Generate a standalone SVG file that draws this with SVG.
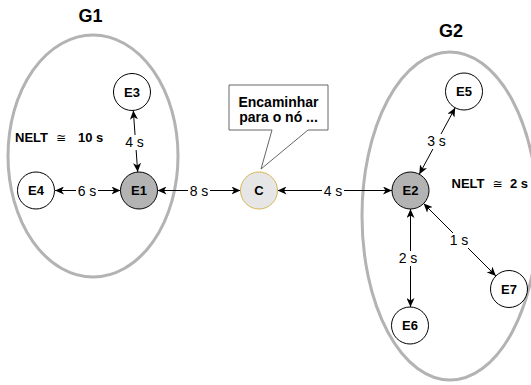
<svg xmlns="http://www.w3.org/2000/svg" width="531" height="385" viewBox="0 0 531 385">
<style>
.grp{fill:none;stroke:#b3b3b3;stroke-width:3}
.node{fill:#ffffff;stroke:#000000;stroke-width:1}
.dark{fill:#b3b3b3}
.c{fill:#e6e6e6;stroke:#d6b656}
.lbl{font-family:"Liberation Sans",Arial,sans-serif;font-weight:bold;font-size:13px;text-anchor:middle;fill:#000}
.title{font-family:"Liberation Sans",Arial,sans-serif;font-weight:bold;font-size:18px;text-anchor:middle;fill:#000}
.el{font-family:"Liberation Sans",Arial,sans-serif;font-size:14px;text-anchor:middle;fill:#000}
.nelt{font-family:"Liberation Sans",Arial,sans-serif;font-weight:bold;font-size:13px;fill:#000}
.edge{stroke:#000;stroke-width:1;fill:none;marker-start:url(#arr);marker-end:url(#arr)}
.bg{fill:#ffffff}
</style>
<defs>
<marker id="arr" markerUnits="userSpaceOnUse" markerWidth="10" markerHeight="8" refX="9" refY="4" orient="auto-start-reverse" viewBox="0 0 10 8">
<path d="M0,0 L9,4 L0,8 L2.5,4 Z" fill="#000"/>
</marker>
</defs>
<g id="groups">
<ellipse id="G1-area" class="grp" cx="93" cy="156" rx="85" ry="121"/>
<ellipse id="G2-area" class="grp" cx="450" cy="216" rx="88" ry="164"/>
<text class="title" x="90.5" y="22">G1</text>
<text class="title" x="451" y="37">G2</text>
<text class="nelt" y="141.5"><tspan x="15">NELT</tspan><tspan x="56" font-family="DejaVu Sans" font-weight="normal" font-size="12">≅</tspan><tspan x="78">10 s</tspan></text>
<text class="nelt" y="188.3"><tspan x="451.5">NELT</tspan><tspan x="492.5" font-family="DejaVu Sans" font-weight="normal" font-size="12">≅</tspan><tspan x="510">2 s</tspan></text>
</g>
<g id="connectors">
<line class="edge" x1="133.3" y1="110.5" x2="137.7" y2="172"/>
<line class="edge" x1="55" y1="190.5" x2="120.5" y2="190.5"/>
<line class="edge" x1="157.5" y1="190.5" x2="240.5" y2="190.5"/>
<line class="edge" x1="277.5" y1="190.5" x2="392" y2="190.5"/>
<line class="edge" x1="419.3" y1="174.2" x2="455.2" y2="107.8"/>
<line class="edge" x1="410.5" y1="209" x2="410.5" y2="307"/>
<line class="edge" x1="423.6" y1="203.6" x2="495.9" y2="275.9"/>
<rect class="bg" x="124" y="135" width="20" height="15"/>
<text class="el" x="134.5" y="147">4 s</text>
<rect class="bg" x="76" y="183" width="22" height="15"/>
<text class="el" x="87" y="195.5">6 s</text>
<rect class="bg" x="188" y="183" width="22" height="15"/>
<text class="el" x="199" y="195.5">8 s</text>
<rect class="bg" x="322" y="183" width="22" height="15"/>
<text class="el" x="333" y="195.5">4 s</text>
<rect class="bg" x="426" y="134" width="21" height="15"/>
<text class="el" x="436.5" y="146">3 s</text>
<rect class="bg" x="398" y="251" width="21" height="15"/>
<text class="el" x="408" y="263">2 s</text>
<rect class="bg" x="449" y="233" width="21" height="15"/>
<text class="el" x="459" y="245">1 s</text>
</g>
<g id="callout">
<path d="M229,85 H328 V130 H308 L261,169 L272,130 H229 Z" fill="#ffffff" stroke="#666666" stroke-width="1"/>
<text class="lbl" font-size="14" x="278.5" y="106.7" style="font-size:14px">Encaminhar</text>
<text class="lbl" x="278.5" y="122" style="font-size:14px">para o nó ...</text>
</g>
<g id="E3"><circle class="node" cx="132" cy="92" r="18.5"/><text class="lbl" x="132" y="96.7">E3</text></g>
<g id="E4"><circle class="node" cx="36" cy="190.5" r="18.5"/><text class="lbl" x="36" y="195.2">E4</text></g>
<g id="E1"><circle class="node dark" cx="139" cy="190.5" r="18.5"/><text class="lbl" x="139" y="195.2">E1</text></g>
<g id="C"><circle class="node c" cx="259" cy="190.5" r="18.5"/><text class="lbl" x="259" y="195.2">C</text></g>
<g id="E2"><circle class="node dark" cx="410.5" cy="190.5" r="18.5"/><text class="lbl" x="410.5" y="195.2">E2</text></g>
<g id="E5"><circle class="node" cx="464" cy="91.5" r="18.5"/><text class="lbl" x="464" y="96.2">E5</text></g>
<g id="E6"><circle class="node" cx="410" cy="325.5" r="18.5"/><text class="lbl" x="410" y="330.2">E6</text></g>
<g id="E7"><circle class="node" cx="509" cy="289" r="18.5"/><text class="lbl" x="509" y="293.7">E7</text></g>
</svg>
